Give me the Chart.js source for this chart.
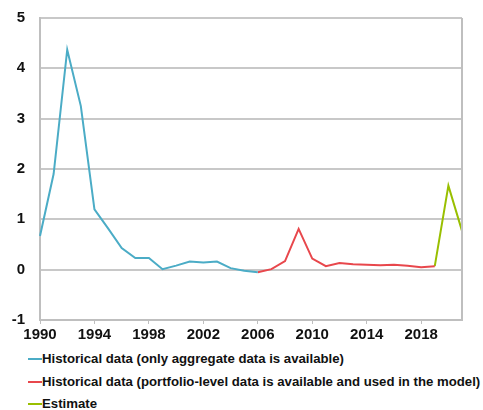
<!DOCTYPE html>
<html>
<head>
<meta charset="utf-8">
<script src="https://cdn.jsdelivr.net/npm/chart.js@4"></script>
<style>
  body { margin: 0; background: #fff; font-family: "Liberation Sans", Arial, sans-serif; }
  #wrap { position: relative; width: 483px; height: 410px; }
  #chartBox { position: absolute; left: 0; top: 0; width: 483px; height: 345px; }
  .legend { position: absolute; left: 28px; font-weight: bold; font-size: 13.2px; line-height: 16px; color: #111; white-space: nowrap; }
  .legend span { display: inline-block; width: 14px; height: 2px; vertical-align: middle; position: relative; top: -1px; }
</style>
</head>
<body>
<div id="wrap">
  <div id="chartBox"><canvas id="myChart" width="483" height="345"></canvas></div>
  <div class="legend" style="top:351px"><span style="background:#4bacc6"></span>Historical data (only aggregate data is available)</div>
  <div class="legend" style="top:374px"><span style="background:#e8474c"></span>Historical data (portfolio-level data is available and used in the model)</div>
  <div class="legend" style="top:396px"><span style="background:#99bf00"></span>Estimate</div>
</div>
<script>
const years = [];
for (let y = 1990; y <= 2021; y++) years.push(String(y));

// 1990 - 2006
const aggregateData = [0.67, 1.9, 4.37, 3.25, 1.2, 0.82, 0.43, 0.23, 0.23, 0.01, 0.08, 0.16, 0.14, 0.16, 0.03, -0.02, -0.05];
// 2006 - 2019
const portfolioData = [-0.05, 0.01, 0.17, 0.81, 0.22, 0.07, 0.13, 0.11, 0.1, 0.09, 0.1, 0.08, 0.05, 0.07];
// 2019 - 2021
const estimateData = [0.07, 1.67, 0.77];

const yTicks = [-1, 0, 1, 2, 3, 4, 5];

function place(values, startYear) {
  const out = years.map(() => null);
  const start = years.indexOf(String(startYear));
  values.forEach((v, i) => { out[start + i] = v; });
  return out;
}

const rightBorder = {
  id: "rightBorder",
  afterDraw(chart) {
    const { ctx, chartArea } = chart;
    ctx.save();
    ctx.strokeStyle = "#bfbfbf";
    ctx.lineWidth = 2;
    ctx.beginPath();
    ctx.moveTo(chartArea.right, chartArea.top);
    ctx.lineTo(chartArea.right, chartArea.bottom);
    ctx.stroke();
    ctx.restore();
  },
};

const ctx = document.getElementById("myChart").getContext("2d");

const myChart = new Chart(ctx, {
  type: "line",
  data: {
    labels: years,
    datasets: [
      {
        data: place(aggregateData, 1990),
        borderColor: "#4bacc6",
        borderWidth: 2,
        pointRadius: 0,
      },
      {
        data: place(portfolioData, 2006),
        borderColor: "#e8474c",
        borderWidth: 2,
        pointRadius: 0,
      },
      {
        data: place(estimateData, 2019),
        borderColor: "#99bf00",
        borderWidth: 2,
        pointRadius: 0,
      },
    ],
  },
  plugins: [rightBorder],
  options: {
    responsive: false,
    animation: false,
    layout: { padding: { top: 18, right: 21, left: 0, bottom: 0 } },
    scales: {
      x: {
        offset: false,
        afterFit: (s) => { s.height = 25; },
        grid: {
          drawOnChartArea: false,
          tickLength: 4,
          color: (c) => ((c.index % 4 === 0) ? "#bfbfbf" : "rgba(0,0,0,0)"),
          lineWidth: 1,
        },
        border: { color: "#bfbfbf", width: 2 },
        ticks: {
          autoSkip: false,
          maxRotation: 0,
          padding: 2,
          color: "#111",
          font: { family: "Liberation Sans", size: 15, weight: "bold" },
          callback: (v, i) => (i % 4 === 0 ? years[i] : ""),
        },
      },
      y: {
        min: -1,
        max: 5,
        afterFit: (s) => { s.width = 40; },
        afterBuildTicks: (s) => { s.ticks = yTicks.map((v) => ({ value: v })); },
        grid: { color: "#c8c8c8", lineWidth: 2, drawTicks: true, tickLength: 15, tickColor: "rgba(0,0,0,0)" },
        border: { color: "#bfbfbf", width: 2 },
        ticks: {
          padding: 0,
          color: "#111",
          font: { family: "Liberation Sans", size: 15, weight: "bold" },
        },
      },
    },
    plugins: {
      legend: { display: false },
      tooltip: { enabled: false },
    },
  },
});
</script>
</body>
</html>
